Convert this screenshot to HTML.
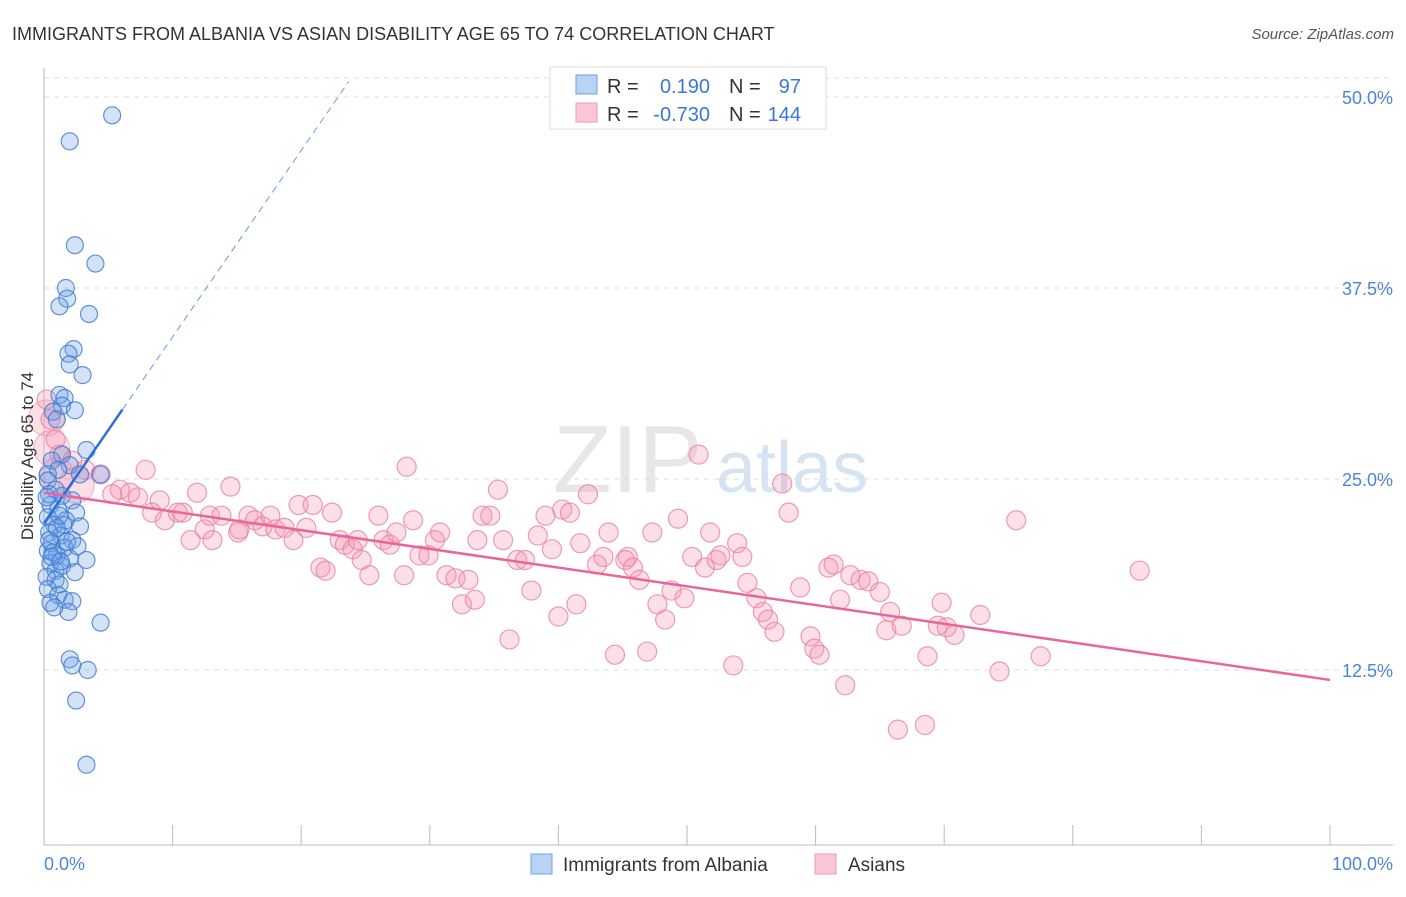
<!DOCTYPE html>
<html><head><meta charset="utf-8">
<style>
body{margin:0;background:#fff;font-family:"Liberation Sans",sans-serif;}
svg text{font-family:"Liberation Sans",sans-serif;}
</style></head>
<body>
<svg id="chart" width="1406" height="892" xmlns="http://www.w3.org/2000/svg">
<text x="12" y="40" font-size="18" fill="#333">IMMIGRANTS FROM ALBANIA VS ASIAN DISABILITY AGE 65 TO 74 CORRELATION CHART</text>
<text x="1394" y="39" font-size="15" fill="#555" text-anchor="end" font-style="italic">Source: ZipAtlas.com</text>
<g>
<text x="553" y="492" font-size="96" fill="#ddd" font-family="Liberation Serif" opacity="0.7">ZIP</text>
<text x="716" y="492" font-size="72" fill="#c5d8ef" opacity="0.7">atlas</text>
</g>
<g id="grid"></g>
<g id="axes"></g>
<g id="pinkPts"></g>
<g id="bluePts"></g>
<g id="trends"></g>
<text transform="translate(33,456) rotate(-90)" font-size="17" fill="#333" text-anchor="middle">Disability Age 65 to 74</text>
<g>
<rect x="550" y="67" width="276" height="62" fill="#fff" stroke="#ddd"/>
<rect x="576" y="75" width="21" height="19" fill="#b9d3f5" stroke="#6ea0e0"/>
<rect x="576" y="103" width="21" height="19" fill="#fbc6d6" stroke="#ec98b2"/>
<text x="607" y="93" font-size="20" fill="#333">R =</text>
<text x="710" y="93" font-size="20" fill="#3a78d4" text-anchor="end">0.190</text>
<text x="729" y="93" font-size="20" fill="#333">N =</text>
<text x="801" y="93" font-size="20" fill="#3a78d4" text-anchor="end">97</text>
<text x="607" y="121" font-size="20" fill="#333">R =</text>
<text x="710" y="121" font-size="20" fill="#3a78d4" text-anchor="end">-0.730</text>
<text x="729" y="121" font-size="20" fill="#333">N =</text>
<text x="801" y="121" font-size="20" fill="#3a78d4" text-anchor="end">144</text>
</g>
<g>
<rect x="531" y="854" width="21" height="20" fill="#b9d3f5" stroke="#6ea0e0"/>
<text x="563" y="871" font-size="19" fill="#333">Immigrants from Albania</text>
<rect x="815" y="854" width="21" height="20" fill="#fbc6d6" stroke="#ec98b2"/>
<text x="848" y="871" font-size="19" fill="#333">Asians</text>
</g>
</svg>
<script>
const yTicks=[12.5,25,37.5,50];
const yTickLabels=["12.5%","25.0%","37.5%","50.0%"];
const xTickLabels=["0.0%","100.0%"];
const blueX=[5.3,2.0,2.4,4.0,1.7,1.8,1.2,3.5,2.3,1.9,2.0,3.0,1.2,1.6,1.4,2.4,0.7,1.0,3.3,1.4,0.6,2.0,4.4,2.8,1.1,0.3,0.3,0.9,1.4,2.2,0.5,1.1,2.5,0.3,1.7,0.8,2.8,0.4,1.3,2.2,0.6,1.6,0.3,1.0,2.0,3.3,0.5,1.4,0.9,2.4,0.2,0.9,1.2,0.3,1.1,1.6,2.2,0.5,1.9,0.8,4.4,2.0,2.2,3.4,2.5,3.3,0.4,1.5,0.7,1.8,1.0,0.4,1.2,2.6,0.6,1.3,0.2];
const blueY=[48.8,47.1,40.3,39.1,37.5,36.8,36.3,35.8,33.5,33.2,32.5,31.8,30.5,30.3,29.8,29.5,29.4,28.9,26.9,26.6,26.2,25.9,25.3,25.3,25.6,25.3,24.9,24.3,23.9,23.6,23.3,23.0,22.8,22.5,22.3,22.0,21.9,21.5,21.3,21.0,20.8,20.5,20.3,20.0,19.8,19.7,19.5,19.3,19.0,18.9,18.6,18.4,18.1,17.8,17.4,17.1,17.0,16.9,16.3,16.6,15.6,13.2,12.8,12.5,10.5,6.3,21.0,22.0,20.2,20.9,21.8,24.0,22.6,20.6,19.9,19.6,23.8];
const pinkX=[0.2,0.5,0.9,1.2,2.2,3.2,4.4,7.9,5.9,5.3,6.7,7.3,9.0,8.4,9.4,10.4,10.8,11.9,14.5,11.4,12.5,13.1,12.9,15.1,13.8,15.9,15.2,16.4,17.0,17.6,18.0,18.7,19.4,19.8,20.4,20.9,21.5,21.9,22.4,23.0,23.4,24.0,24.4,24.7,25.3,26.0,26.4,26.9,27.4,28.0,28.2,28.7,29.2,29.9,30.4,30.8,31.3,32.0,32.5,33.0,33.5,33.7,34.1,34.7,35.3,35.7,36.2,36.8,37.4,37.9,38.4,39.0,39.5,40.0,40.3,40.9,41.4,41.7,42.3,43.0,43.5,43.9,44.4,45.2,45.4,45.8,46.3,46.9,47.3,47.7,48.3,48.8,49.3,49.8,50.4,50.9,51.4,51.8,52.3,52.6,53.6,53.9,54.3,54.7,55.4,55.9,56.3,56.8,57.4,57.9,58.8,59.6,59.9,60.3,61.0,61.4,61.9,62.3,62.7,63.5,64.1,65.0,65.5,65.8,66.4,66.7,68.5,68.7,69.5,69.8,70.2,70.8,72.8,74.3,75.6,77.5,85.2];
const pinkY=[30.2,28.9,27.6,26.6,26.2,25.6,25.3,25.6,24.3,24.0,24.1,23.8,23.6,22.8,22.3,22.8,22.8,24.1,24.5,21.0,21.7,21.0,22.6,21.5,22.6,22.6,21.7,22.3,21.9,22.6,21.7,21.8,21.0,23.3,21.8,23.3,19.2,19.0,22.8,21.0,20.7,20.4,21.0,19.7,18.7,22.6,21.0,20.7,21.5,18.7,25.8,22.3,20.0,20.0,21.0,21.5,18.7,18.5,16.8,18.4,17.1,21.0,22.6,22.6,24.3,21.0,14.5,19.7,19.7,17.7,21.3,22.6,20.4,16.0,23.0,22.8,16.8,20.8,24.0,19.4,19.9,21.5,13.5,19.7,19.9,19.2,18.4,13.7,21.5,16.8,15.8,17.7,22.4,17.2,19.9,26.6,19.2,21.5,19.7,20.0,12.8,20.8,19.9,18.2,17.2,16.3,15.8,15.0,24.7,22.8,17.9,14.7,13.9,13.5,19.2,19.4,17.1,11.5,18.7,18.4,18.3,17.6,15.1,16.3,8.6,15.4,8.9,13.4,15.4,16.9,15.3,14.8,16.1,12.4,22.3,13.4,19.0];
const pinkBigX=[0.2,0.6,1.0,2.5];
const pinkBigY=[29.0,27.0,25.2,24.6];
const blueTrend=[22.1,1.22];
const pinkTrend=[24.1,-0.1225];
const NS="http://www.w3.org/2000/svg";
const xs=v=>44+v/100*1286;
const ys=v=>97+(50-v)*191/12.5;
function mk(tag,attrs,parent){const e=document.createElementNS(NS,tag);for(const k in attrs)e.setAttribute(k,attrs[k]);parent.appendChild(e);return e;}
const grid=document.getElementById('grid'),axes=document.getElementById('axes');
let gl=mk('line',{x1:44,x2:1393,y1:78,y2:78,stroke:'#ddd','stroke-dasharray':'5,5'},grid);

yTicks.forEach((t,i)=>{
 const l=mk('line',{x1:44,x2:1393,y1:ys(t),y2:ys(t),stroke:'#ddd','stroke-dasharray':'5,5'},grid);
 
 
 const tx=mk('text',{x:1393,y:ys(t)+7,'font-size':18,fill:'#4a86d8','text-anchor':'end'},axes);
 tx.textContent=yTickLabels[i];
 
 
});
mk('line',{x1:44,x2:44,y1:68,y2:845,stroke:'#bbb'},axes);
mk('line',{x1:44,x2:1393,y1:845,y2:845,stroke:'#bbb'},axes);
for(let i=0;i<=10;i++){const t=mk('line',{x1:xs(i*10),x2:xs(i*10),y1:825,y2:845,stroke:'#bbb'},axes);}
[[0,'start',44],[1,'end',1393]].forEach(([i,a,x])=>{const t=mk('text',{x:x,y:870,'font-size':18,fill:'#4a86d8','text-anchor':a},axes);t.textContent=xTickLabels[i];});
const pg=document.getElementById('pinkPts');
pinkBigX.forEach((x,i)=>{const c=mk('circle',{cx:xs(x),cy:ys(pinkBigY[i]),r:18,fill:'rgba(245,150,175,0.3)',stroke:'rgba(232,130,165,0.6)'},pg);});
pinkX.forEach((x,i)=>{const c=mk('circle',{cx:xs(x),cy:ys(pinkY[i]),r:9.5,fill:'rgba(245,150,175,0.3)',stroke:'rgba(232,130,165,0.8)','stroke-width':1.2},pg);});
const bg=document.getElementById('bluePts');
blueX.forEach((x,i)=>{const c=mk('circle',{cx:xs(x),cy:ys(blueY[i]),r:8.5,fill:'rgba(110,160,230,0.3)',stroke:'rgba(60,120,210,0.8)','stroke-width':1.2},bg);});
const tg=document.getElementById('trends');
const bl=mk('line',{x1:xs(0),y1:ys(blueTrend[0]),x2:xs(6.1),y2:ys(blueTrend[0]+blueTrend[1]*6.1),stroke:'#2a6fd6','stroke-width':2.5},tg);

const bd=mk('line',{x1:xs(6.1),y1:ys(blueTrend[0]+blueTrend[1]*6.1),x2:xs(23.7),y2:ys(blueTrend[0]+blueTrend[1]*23.7),stroke:'#6a9be0','stroke-width':1,'stroke-dasharray':'7,5'},tg);

const pl=mk('line',{x1:xs(0),y1:ys(pinkTrend[0]),x2:xs(100),y2:ys(pinkTrend[0]+pinkTrend[1]*100),stroke:'#e8669a','stroke-width':2.5},tg);

</script>
</body></html>
